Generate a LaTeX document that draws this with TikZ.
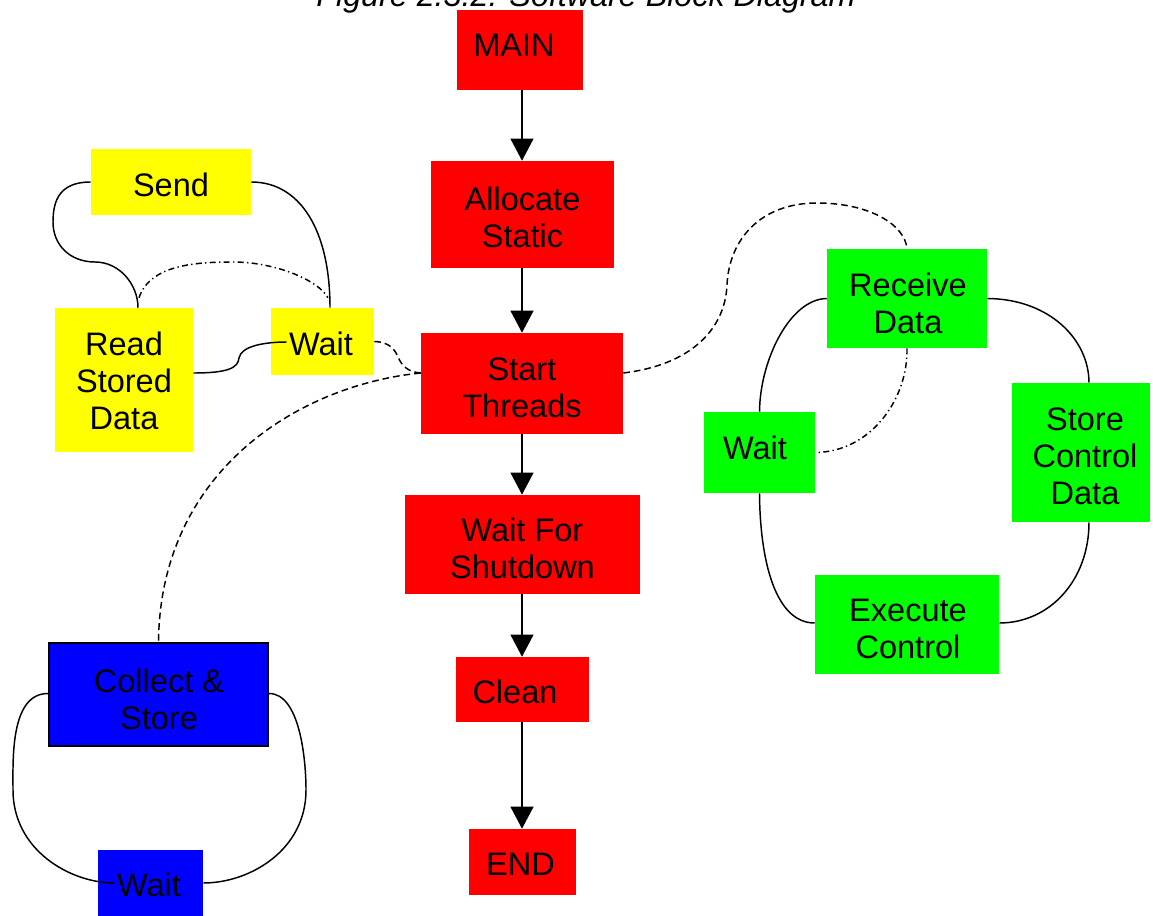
\documentclass[tikz,border=0pt]{standalone}
\usepackage{fontspec}
\setmainfont{Liberation Sans}
\usetikzlibrary{arrows.meta,calc}
\definecolor{bred}{RGB}{255,0,0}
\definecolor{byellow}{RGB}{255,255,0}
\definecolor{bgreen}{RGB}{0,255,0}
\definecolor{bblue}{RGB}{0,0,255}
\tikzset{
  blk/.style={rectangle, inner sep=0pt},
  txt/.style={inner sep=0pt, align=center, text=black,
    font=\fontsize{24.4pt}{27.75pt}\selectfont},
  redblk/.style={blk, fill=bred},
  yelblk/.style={blk, fill=byellow},
  grnblk/.style={blk, fill=bgreen},
  blublk/.style={blk, fill=bblue},
  flow/.style={line width=1.5pt, -{Triangle[length=16.5pt,width=17pt]}},
  link/.style={line width=1.1pt},
  dlink/.style={line width=1.1pt, dash pattern=on 5pt off 3pt},
  dd/.style={line width=1.1pt, dash pattern=on 4.5pt off 2.5pt on 1pt off 2.5pt},
}
\begin{document}
\begin{tikzpicture}[x=0.75pt,y=-0.75pt]
\useasboundingbox (0,0) rectangle (1153,916);
\clip (0,0) rectangle (1153,916);
\fill[white] (0,0) rectangle (1153,916);

% title (cut off at top, as in the reference)
\node[anchor=base, inner sep=0pt, font=\fontsize{24.2pt}{27pt}\selectfont\itshape] (title) at (586,6.5) {Figure 2.3.2: Software Block Diagram};

% main column boxes
\node[redblk, minimum width=94.5pt, minimum height=60pt] (main) at (520,50) {};
\node[redblk, minimum width=137.25pt, minimum height=80.25pt] (alloc) at (522.5,214.5) {};
\node[redblk, minimum width=151.5pt, minimum height=75.75pt] (start) at (522,383.5) {};
\node[redblk, minimum width=176.25pt, minimum height=74.25pt] (waitsd) at (522.5,544.5) {};
\node[redblk, minimum width=99.75pt, minimum height=48.75pt] (clean) at (522.5,689.5) {};
\node[redblk, minimum width=80.25pt, minimum height=49.5pt] (end) at (522.5,862) {};

% yellow group boxes
\node[yelblk, minimum width=120pt, minimum height=49.5pt] (send) at (171,182) {};
\node[yelblk, minimum width=103.5pt, minimum height=108pt] (read) at (124,380) {};
\node[yelblk, minimum width=77.25pt, minimum height=50.25pt] (yw) at (322.5,341.5) {};

% green group boxes
\node[grnblk, minimum width=120pt, minimum height=74.25pt] (recv) at (907,298.5) {};
\node[grnblk, minimum width=83.25pt, minimum height=60.75pt] (gw) at (759.5,452.5) {};
\node[grnblk, minimum width=103.5pt, minimum height=104.25pt] (store) at (1081,452.5) {};
\node[grnblk, minimum width=138pt, minimum height=74.25pt] (exec) at (907,624.5) {};

% blue group boxes
\node[blublk, draw=black, line width=1pt, minimum width=164.25pt, minimum height=77.25pt] (coll) at (158.5,694.5) {};
\node[blublk, minimum width=78.75pt, minimum height=49.5pt] (bw) at (150.5,883) {};

% main flow arrows
\draw[flow] (main.south -| 522,0) -- (alloc.north -| 522,0);
\draw[flow] (alloc.south -| 522,0) -- (start.north -| 522,0);
\draw[flow] (start.south -| 522,0) -- (waitsd.north -| 522,0);
\draw[flow] (waitsd.south -| 522,0) -- (clean.north -| 522,0);
\draw[flow] (clean.south -| 522,0) -- (end.north -| 522,0);

% yellow links
\draw[link] (send.west) .. controls (60,182) and (53,200) .. (53,222)
   .. controls (53,245) and (70,262) .. (95,262)
   .. controls (120,262) and (138,285) .. ($(read.north)+(14,0)$);
\draw[link] (send.east) .. controls (300,182) and (330,230) .. ($(yw.north)+(7.5,0)$);
\draw[link] ($(read.east)+(0,-7)$) .. controls (228,373) and (238,368) .. (239,358)
   .. controls (241,346) and (265,342) .. ($(yw.west)+(16,0.5)$);
\draw[dd] ($(read.north)+(15,-10)$) .. controls (150,265) and (195,262) .. (233,262)
   .. controls (275,262) and (318,280) .. ($(yw.north)+(5.5,-10)$);
\draw[dlink] (yw.east) .. controls (390,342) and (395,350) .. (398,357)
   .. controls (402,366) and (408,372) .. ($(start.west)+(0,-10.5)$);

% start threads to other threads
\draw[dlink] ($(start.west)+(0,-10.5)$) .. controls (300,385) and (160,470) .. (coll.north);
\draw[dlink] ($(start.east)+(0,-10.5)$) .. controls (690,365) and (725,330) .. (727,285)
   .. controls (729,240) and (760,203) .. (817,203)
   .. controls (870,203) and (905,225) .. (recv.north);

% green links
\draw[link] (recv.west) .. controls (790,299) and (760,360) .. (gw.north);
\draw[dd] (recv.south) .. controls (908,400) and (870,452) .. (gw.east);
\draw[link] (gw.south) .. controls (760,560) and (775,623) .. ($(exec.west)+(0,-1.5)$);
\draw[link] (recv.east) .. controls (1050,299) and (1089,340) .. ($(store.north)+(8,0)$);
\draw[link] ($(store.south)+(8,0)$) .. controls (1089,580) and (1050,623) .. ($(exec.east)+(0,-1.5)$);

% blue links
\draw[link] ($(coll.west)+(0,-1)$) .. controls (10,693) and (13,760) .. (13,790)
   .. controls (13,850) and (70,883) .. ($(bw.west)+(17,0)$);
\draw[link] ($(coll.east)+(0,-1)$) .. controls (300,693) and (306,760) .. (306,790)
   .. controls (306,850) and (250,883) .. (bw.east);

% texts
\node[txt] (mainT) at (514,45) {MAIN};
\node[txt] (allocT) at (522.5,217) {Allocate\\Static};
\node[txt] (startT) at (522,388) {Start\\Threads};
\node[txt] (waitsdT) at (522.5,548.5) {Wait For\\Shutdown};
\node[txt] (cleanT) at (515,692) {Clean};
\node[txt] (endT) at (520.5,864) {END};
\node[txt] (sendT) at (171,185) {Send};
\node[txt] (readT) at (124,381) {Read\\Stored\\Data};
\node[txt] (ywT) at (321,344) {Wait};
\node[txt] (recvT) at (908,303) {Receive\\Data};
\node[txt] (gwT) at (755,448) {Wait};
\node[txt] (storeT) at (1085,456) {Store\\Control\\Data};
\node[txt] (execT) at (908,629) {Execute\\Control};
\node[txt] (collT) at (159,699) {Collect \&\\Store};
\node[txt] (bwT) at (149,885) {Wait};
\end{tikzpicture}
\end{document}
